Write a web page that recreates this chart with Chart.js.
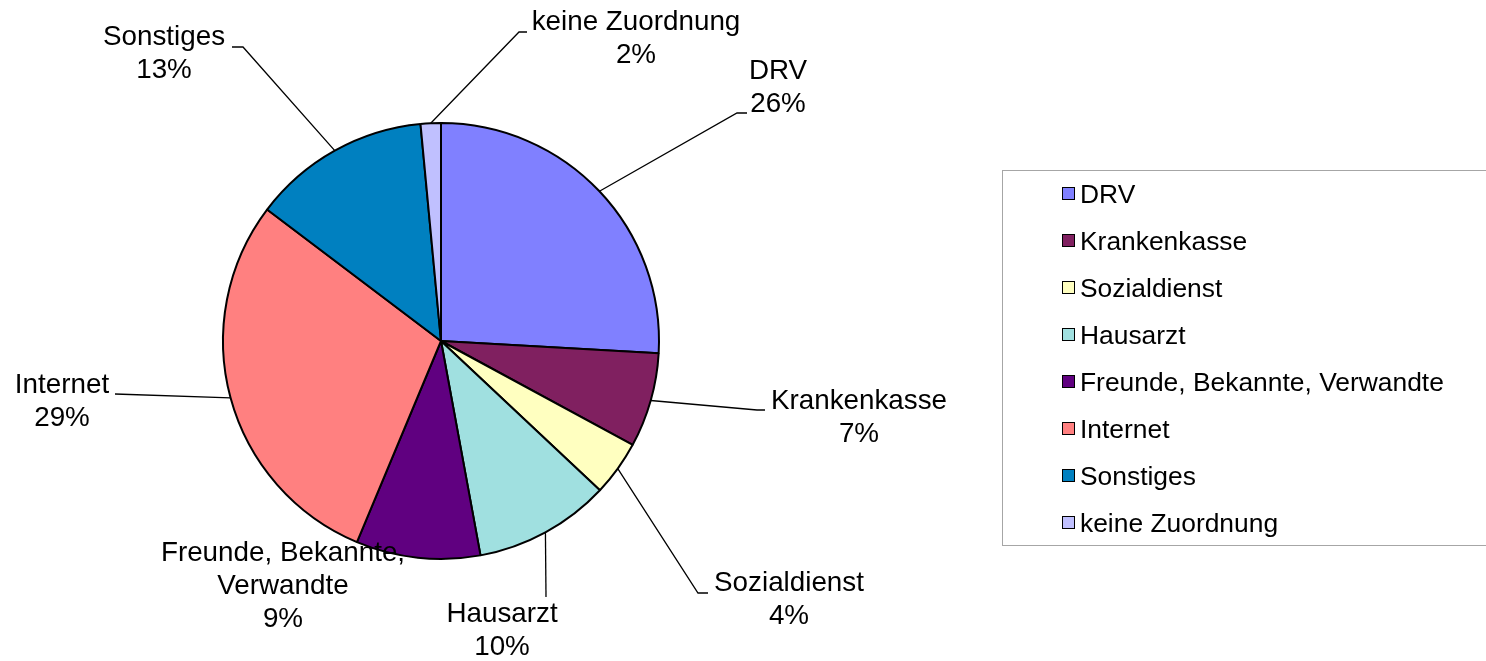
<!DOCTYPE html>
<html>
<head>
<meta charset="utf-8">
<script src="https://cdn.jsdelivr.net/npm/chart.js@4/dist/chart.umd.min.js"></script>
<style>
  html, body { margin: 0; padding: 0; background: #fff; }
  #wrap { position: relative; width: 1486px; height: 661px; overflow: hidden; }
  #pie { position: absolute; left: 0; top: 0; }
  #legend {
    position: absolute; left: 1002px; top: 170px; width: 500px; height: 374px;
    border: 1px solid #a6a6a6; border-right: none;
    font-family: "Liberation Sans", Arial, sans-serif; font-size: 26.4px; color: #000;
  }
  .item { position: absolute; left: 0; height: 30px; line-height: 30px; white-space: nowrap; }
  .box { position: absolute; left: 59px; top: 8px; width: 11px; height: 11px; border: 1.5px solid #000; }
  .txt { position: absolute; left: 77px; top: 0; }
</style>
</head>
<body>
<div id="wrap">
  <canvas id="pie" width="1486" height="661"></canvas>
  <div id="legend"></div>
</div>
<script>
'use strict';

// --- Daten ---
const CATEGORIES = ['DRV', 'Krankenkasse', 'Sozialdienst', 'Hausarzt',
  'Freunde, Bekannte, Verwandte', 'Internet', 'Sonstiges', 'keine Zuordnung'];
const SHARES = [25.9, 7.0, 4.1, 10.1, 9.2, 29.0, 13.2, 1.5];
const COLORS = ['#8080ff', '#802060', '#ffffc0', '#a0e0e0', '#600080', '#ff8080', '#0080c0', '#c0c0ff'];

// Zeilenumbrueche der Beschriftungen
const LABEL_LINES = {
  'Freunde, Bekannte, Verwandte': ['Freunde, Bekannte,', 'Verwandte'],
};

// --- Layout der Beschriftungen (Textmitte erste Zeile, Knick, Ende der Fuehrungslinie) ---
const LABEL_LAYOUT = [
  { x: 778, y: 71,  elbow: [737, 113], end: [747, 113] },
  { x: 859, y: 401, elbow: [757, 410], end: [765, 410] },
  { x: 789, y: 583, elbow: [698, 593], end: [708, 593] },
  { x: 502, y: 614, elbow: null,       end: [546, 597] },
  { x: 283, y: 553, elbow: null,       end: null },
  { x: 62,  y: 385, elbow: null,       end: [115, 394] },
  { x: 164, y: 37,  elbow: [243, 47],  end: [232, 47] },
  { x: 636, y: 22,  elbow: [519, 32],  end: [527, 32] },
];

const FONT = '"Liberation Sans", Arial, sans-serif';

// Datenbeschriftungen mit Fuehrungslinien
const pieLabels = {
  id: 'pieLabels',
  afterDatasetsDraw(chart) {
    const ctx = chart.ctx;
    const arcs = chart.getDatasetMeta(0).data;
    ctx.save();
    arcs.forEach((arc, i) => {
      const lay = LABEL_LAYOUT[i];
      if (lay.end) {
        const mid = (arc.startAngle + arc.endAngle) / 2;
        const sx = arc.x + Math.cos(mid) * arc.outerRadius;
        const sy = arc.y + Math.sin(mid) * arc.outerRadius;
        ctx.beginPath();
        ctx.moveTo(sx, sy);
        if (lay.elbow) ctx.lineTo(lay.elbow[0], lay.elbow[1]);
        ctx.lineTo(lay.end[0], lay.end[1]);
        ctx.strokeStyle = '#000';
        ctx.lineWidth = 1.3;
        ctx.stroke();
      }
      const name = CATEGORIES[i];
      const lines = (LABEL_LINES[name] || [name]).concat([Math.round(SHARES[i]) + '%']);
      ctx.font = '27.8px ' + FONT;
      ctx.fillStyle = '#000';
      ctx.textAlign = 'center';
      ctx.textBaseline = 'middle';
      lines.forEach((t, k) => ctx.fillText(t, lay.x, lay.y + k * 33));
    });
    ctx.restore();
  },
};

new Chart(document.getElementById('pie').getContext('2d'), {
  type: 'pie',
  data: {
    labels: CATEGORIES,
    datasets: [{
      data: SHARES,
      backgroundColor: COLORS,
      borderColor: '#000',
      borderWidth: 2,
      hoverOffset: 0,
    }],
  },
  options: {
    responsive: false,
    animation: false,
    radius: 218,
    layout: { padding: { left: 223, top: 123, right: 827, bottom: 102 } },
    plugins: {
      legend: { display: false },
      tooltip: { enabled: false },
    },
  },
  plugins: [pieLabels],
});

// --- Legende ---
const legend = document.getElementById('legend');
CATEGORIES.forEach((name, i) => {
  const item = document.createElement('div');
  item.className = 'item';
  item.style.top = (8 + i * 47) + 'px';
  item.innerHTML = '<span class="box"></span><span class="txt"></span>';
  item.querySelector('.box').style.background = COLORS[i];
  item.querySelector('.txt').textContent = name;
  legend.appendChild(item);
});
</script>
</body>
</html>
